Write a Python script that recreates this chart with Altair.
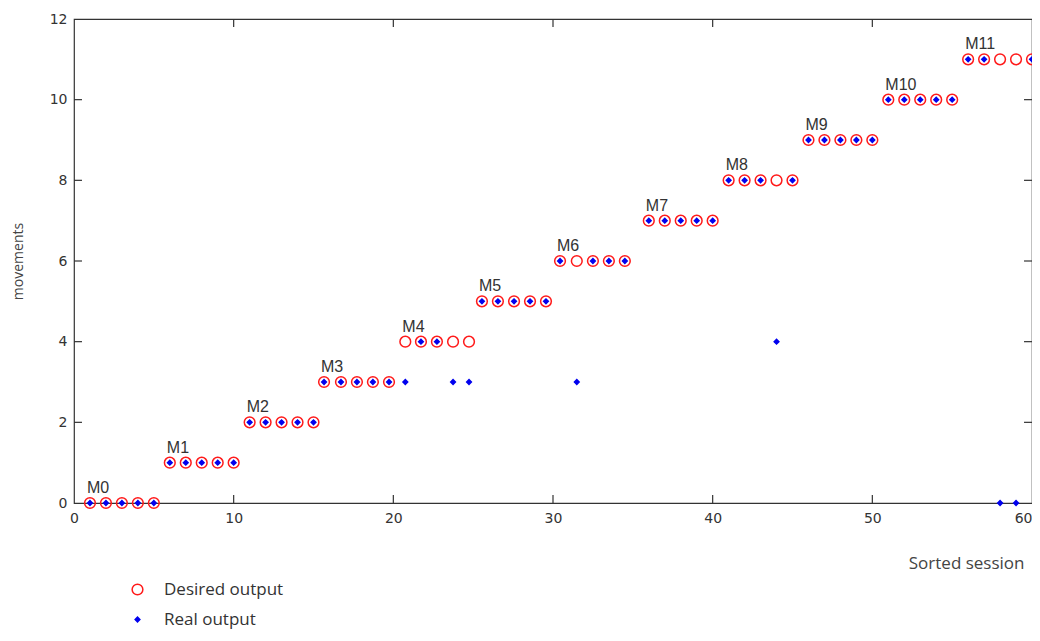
import altair as alt
import pandas as pd

# Sorted session positions
session_x = [1, 2, 3, 4, 5,
             6, 7, 8, 9, 10,
             11, 12, 13, 14, 15,
             15.66, 16.72, 17.72, 18.72, 19.73,
             20.75, 21.73, 22.73, 23.74, 24.74,
             25.55, 26.55, 27.56, 28.56, 29.56,
             30.44, 31.49, 32.5, 33.5, 34.5,
             36, 37, 38, 39, 40,
             41, 42, 43, 44, 45,
             46, 47, 48, 49, 50,
             51, 52, 53, 54, 55,
             56, 57, 58, 59, 60]
desired_y = [0, 0, 0, 0, 0, 1, 1, 1, 1, 1, 2, 2, 2, 2, 2, 3, 3, 3, 3, 3,
             4, 4, 4, 4, 4, 5, 5, 5, 5, 5, 6, 6, 6, 6, 6, 7, 7, 7, 7, 7,
             8, 8, 8, 8, 8, 9, 9, 9, 9, 9, 10, 10, 10, 10, 10, 11, 11, 11, 11, 11]
real_y = [0, 0, 0, 0, 0, 1, 1, 1, 1, 1, 2, 2, 2, 2, 2, 3, 3, 3, 3, 3,
          3, 4, 4, 3, 3, 5, 5, 5, 5, 5, 6, 3, 6, 6, 6, 7, 7, 7, 7, 7,
          8, 8, 8, 4, 8, 9, 9, 9, 9, 9, 10, 10, 10, 10, 10, 11, 11, 0, 0, 11]

group_labels = ["M0", "M1", "M2", "M3", "M4", "M5", "M6", "M7", "M8", "M9", "M10", "M11"]
label_x = [1, 6, 11, 15.66, 20.75, 25.55, 30.44, 36, 41, 46, 51, 56]
label_y = [0, 1, 2, 3, 4, 5, 6, 7, 8, 9, 10, 11]

series_names = ["Desired output", "Real output"]
x_tick_values = [0, 10, 20, 30, 40, 50, 60]
y_tick_values = [0, 2, 4, 6, 8, 10, 12]
x_inner_ticks = [10, 20, 30, 40, 50]
y_inner_ticks = [2, 4, 6, 8, 10]

points = pd.concat([
    pd.DataFrame({"x": session_x, "y": desired_y, "series": series_names[0]}),
    pd.DataFrame({"x": session_x, "y": real_y, "series": series_names[1]}),
], ignore_index=True)

labels = pd.DataFrame({"x": label_x, "y": label_y, "label": group_labels})

rule_rows = []
for t in x_inner_ticks:
    rule_rows.append({"x": t, "x2": t, "y": 0, "y2": 0.2})
    rule_rows.append({"x": t, "x2": t, "y": 12, "y2": 11.8})
for t in y_inner_ticks:
    rule_rows.append({"x": 0, "x2": 0.5, "y": t, "y2": t})
    rule_rows.append({"x": 60, "x2": 59.5, "y": t, "y2": t})
rules = pd.DataFrame(rule_rows)

x_axis = alt.Axis(
    values=x_tick_values, ticks=False, domain=False, grid=False,
    labelFont="DejaVu Sans", labelFontSize=14, labelColor="#333",
    labelPadding=8,
    labelAlign=alt.ExprRef("datum.value == 60 ? 'right' : 'center'"),
    title="Sorted session", titleFont="Open Sans", titleFontSize=17,
    titleFontWeight="normal", titleColor="#444",
    titleX=950, titleY=65, titleAlign="right", titleBaseline="alphabetic",
)
y_axis = alt.Axis(
    values=y_tick_values, ticks=False, domain=False, grid=False,
    labelFont="DejaVu Sans", labelFontSize=14, labelColor="#333",
    labelPadding=7,
    title="movements", titleFont="Open Sans", titleFontSize=14,
    titleFontWeight="normal", titleColor="#444",
    titleX=-56, titleY=242, titleAlign="center", titleBaseline="middle",
    titleAngle=270,
)
x_scale = alt.Scale(domain=[0, 60], nice=False, zero=False)
y_scale = alt.Scale(domain=[0, 12], nice=False, zero=False)

leg = alt.Legend(title=None, orient="none", legendX=55, legendY=562)

pts = alt.Chart(points).mark_point(strokeWidth=1.5, opacity=1).encode(
    x=alt.X("x:Q", scale=x_scale, axis=x_axis),
    y=alt.Y("y:Q", scale=y_scale, axis=y_axis),
    shape=alt.Shape("series:N", scale=alt.Scale(domain=series_names, range=["circle", "diamond"]), legend=leg),
    fill=alt.Fill("series:N", scale=alt.Scale(domain=series_names, range=["transparent", "#0000ee"]), legend=leg),
    stroke=alt.Stroke("series:N", scale=alt.Scale(domain=series_names, range=["#ff1a1a", "#0000ee"]), legend=leg),
    size=alt.Size("series:N", scale=alt.Scale(domain=series_names, range=[115, 22]), legend=leg),
)

txt = alt.Chart(labels).mark_text(
    align="left", baseline="alphabetic", dx=-3, dy=-10,
    font="Liberation Sans", fontSize=16, color="#333",
).encode(
    x=alt.X("x:Q", scale=x_scale, axis=x_axis),
    y=alt.Y("y:Q", scale=y_scale, axis=y_axis),
    text="label:N",
)

ticks = alt.Chart(rules).mark_rule(color="#333", strokeWidth=1.2).encode(
    x=alt.X("x:Q", scale=x_scale, axis=x_axis),
    x2="x2:Q",
    y=alt.Y("y:Q", scale=y_scale, axis=y_axis),
    y2="y2:Q",
)

chart = alt.layer(ticks, pts, txt).properties(
    width=958, height=484,
    autosize=alt.AutoSizeParams(type="none"),
    padding={"left": 66, "top": 11, "right": 0, "bottom": 130},
    background="white",
).configure_view(
    stroke="#333", strokeWidth=1.2,
).configure_legend(
    labelFont="Open Sans", labelFontSize=17, labelColor="#333",
    rowPadding=12, labelOffset=18, padding=0, symbolStrokeWidth=1.5,
)

chart.save("out.html", embed_options={"renderer": "svg", "actions": False})
